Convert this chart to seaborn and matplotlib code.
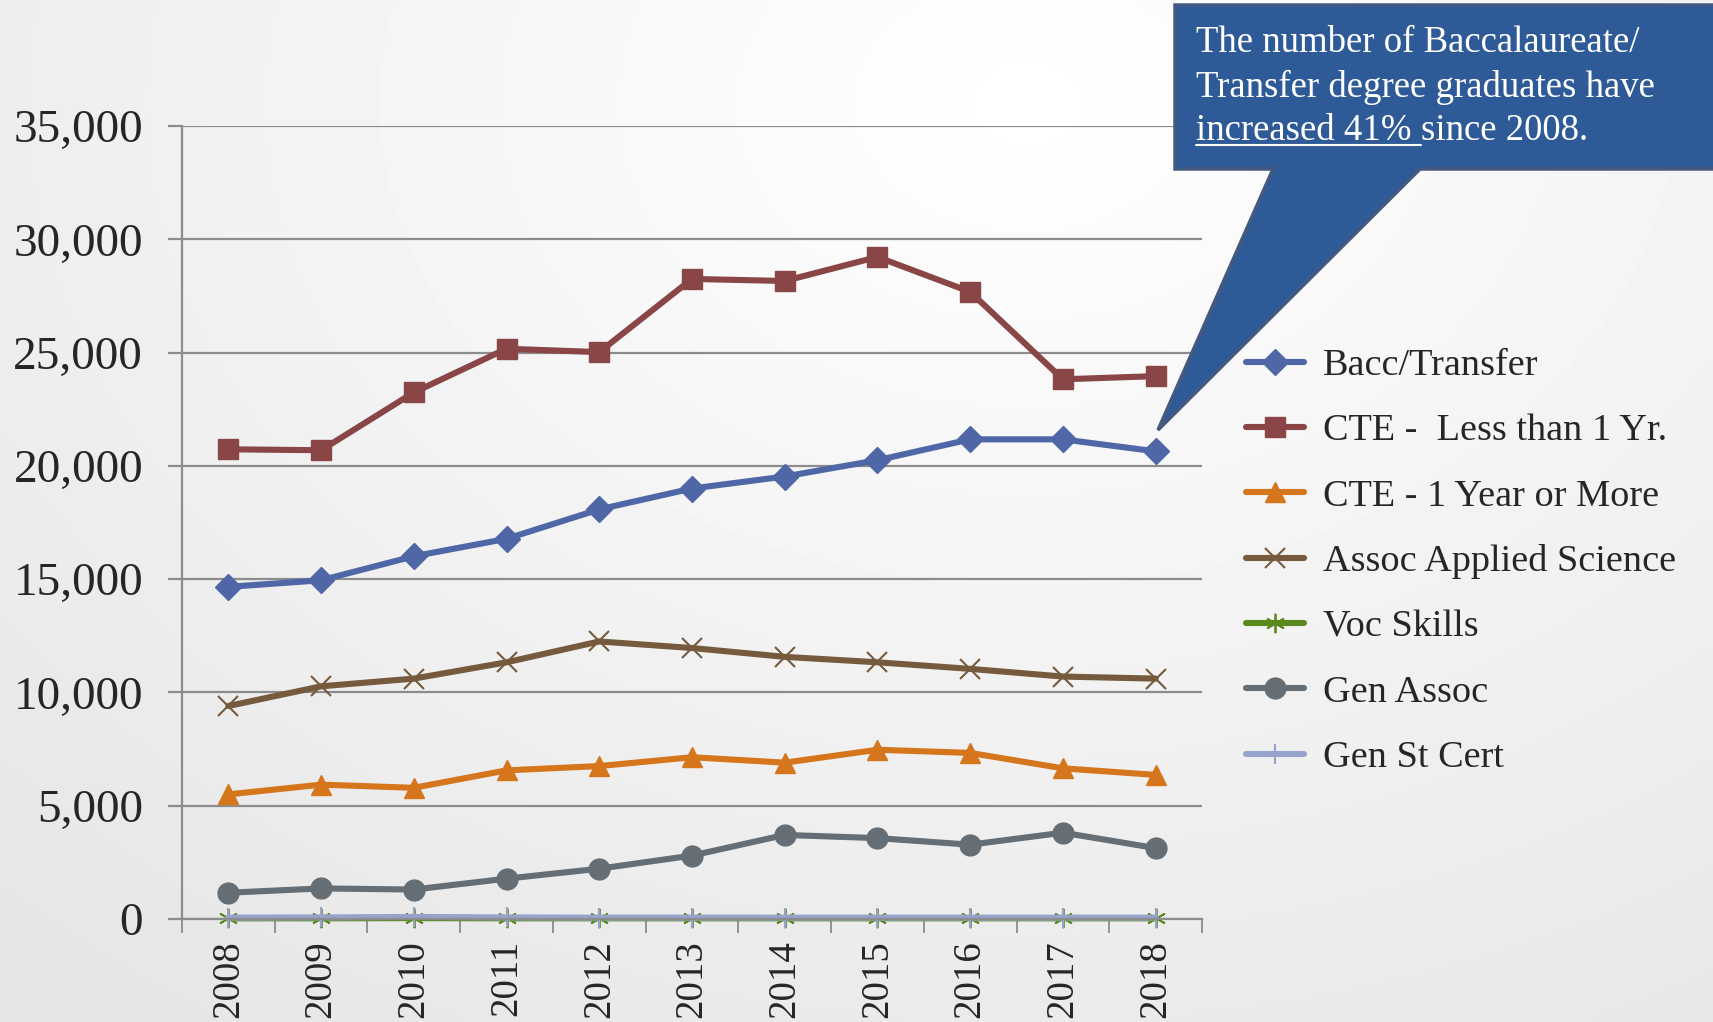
import seaborn as sns
import matplotlib.pyplot as plt
from matplotlib.patches import Polygon
from matplotlib.lines import Line2D
from matplotlib.ticker import FuncFormatter, FixedLocator
import numpy as np
import pandas as pd

## Data
years = [2008, 2009, 2010, 2011, 2012, 2013, 2014, 2015, 2016, 2017, 2018]
bacc_transfer = [14660, 14950, 16010, 16780, 18080, 19000, 19530, 20250, 21170, 21170, 20640]
cte_less_1yr = [20730, 20690, 23240, 25170, 25020, 28250, 28160, 29220, 27680, 23820, 23960]
cte_1yr_more = [5500, 5930, 5790, 6560, 6750, 7140, 6900, 7470, 7330, 6650, 6360]
assoc_applied = [9400, 10270, 10610, 11330, 12250, 11960, 11570, 11330, 11040, 10700, 10610]
voc_skills = [30, 30, 40, 30, 30, 30, 30, 30, 30, 30, 30]
gen_assoc = [1160, 1350, 1300, 1780, 2220, 2800, 3710, 3570, 3280, 3810, 3130]
gen_st_cert = [60, 70, 90, 70, 60, 60, 60, 60, 60, 60, 60]
y_ticks = [0, 5000, 10000, 15000, 20000, 25000, 30000, 35000]

series = [
    # label, values, color, marker, markersize, edge width
    ("Bacc/Transfer", bacc_transfer, "#4F67A6", "D", 13, 1),
    ("CTE -  Less than 1 Yr.", cte_less_1yr, "#8A4646", "s", 15, 1),
    ("CTE - 1 Year or More", cte_1yr_more, "#D5751C", "^", 15, 1),
    ("Assoc Applied Science", assoc_applied, "#765A3E", "x", 14, 1.5),
    ("Voc Skills", voc_skills, "#5A8A1E", (6, 2, 0), 14, 1.3),
    ("Gen Assoc", gen_assoc, "#656E74", "o", 15, 1),
    ("Gen St Cert", gen_st_cert, "#97A3CD", "|", 14, 1.5),
]

W, H = 1713, 1022
serif = ["Liberation Serif", "DejaVu Serif"]

sns.set_style("white")
plt.rcParams["font.family"] = serif

fig = plt.figure(figsize=(W / 100, H / 100), dpi=100)

# soft grey background gradient
bg = fig.add_axes([0, 0, 1, 1], zorder=-10)
yy, xx = np.mgrid[0:1:200j, 0:1:340j]
r = np.sqrt(((xx - 0.6) * 1.0) ** 2 + ((yy - 0.1) * 0.8) ** 2)
bg.imshow(1 - 0.085 * np.clip(r / 0.75, 0, 1.2), cmap="gray", vmin=0, vmax=1,
          aspect="auto", extent=[0, 1, 1, 0], interpolation="bicubic")
bg.set_axis_off()

ax = fig.add_axes([182 / W, 1 - 919 / H, (1202 - 182) / W, (919 - 126) / H])
ax.patch.set_alpha(0)

for label, vals, color, marker, ms, mew in series:
    df = pd.DataFrame({"year": years, "value": vals})
    sns.lineplot(data=df, x="year", y="value", ax=ax, color=color, lw=4.4,
                 marker=marker, markersize=ms, markeredgewidth=mew,
                 markeredgecolor=color, label=label, legend=False, clip_on=False)

ax.set_xlim(2007.5, 2018.5)
ax.set_ylim(0, 35000)
ax.set_xlabel("")
ax.set_ylabel("")

ax.yaxis.set_major_locator(FixedLocator(y_ticks))
ax.yaxis.set_major_formatter(FuncFormatter(lambda v, p: f"{int(v):,}"))
ax.grid(True, axis="y", color="#8C8C8C", lw=1.6)
ax.tick_params(axis="y", which="major", left=True, length=10, width=1.6,
               color="#8C8C8C", labelsize=34, pad=18)

ax.xaxis.set_major_locator(FixedLocator(years))
ax.set_xticklabels([str(y) for y in years], rotation=90, fontsize=28)
ax.xaxis.set_minor_locator(FixedLocator([y - 0.5 for y in years] + [2018.5]))
ax.tick_params(axis="x", which="major", bottom=True, length=0, pad=15)
ax.tick_params(axis="x", which="minor", bottom=True, length=10, width=1.3,
               color="#8C8C8C")

for side in ["top", "right"]:
    ax.spines[side].set_visible(False)
for side in ["left", "bottom"]:
    ax.spines[side].set_color("#8C8C8C")
    ax.spines[side].set_linewidth(1.6)

# legend
handles = [Line2D([], [], color=c, lw=4.4, marker=m, markersize=ms,
                  markeredgewidth=mew, markeredgecolor=c)
           for _, _, c, m, ms, mew in series]
labels = [s[0] for s in series]
fig.legend(handles, labels, loc="upper left",
           bbox_to_anchor=(1231 / W, 1 - 333 / H), frameon=False,
           fontsize=27.5, handlelength=1.5, handletextpad=0.5, labelspacing=0.8,
           borderaxespad=0)

# callout box with pointer
def fpt(px, py):
    return (px / W, 1 - py / H)

callout = Polygon([fpt(1175, 5), fpt(1720, 5), fpt(1720, 169), fpt(1420, 169),
                   fpt(1158, 430), fpt(1273, 169), fpt(1175, 169)],
                  closed=True, transform=fig.transFigure, facecolor="#2E5A97",
                  edgecolor="#44597F", lw=2.5, zorder=5)
fig.add_artist(callout)

tx = 1196 / W
line_tops = [26, 70, 114]
fs = 26.5
fig.text(tx, 1 - line_tops[0] / H, "The number of Baccalaureate/", color="white",
         fontsize=fs, va="top", ha="left", zorder=6)
fig.text(tx, 1 - line_tops[1] / H, "Transfer degree graduates have", color="white",
         fontsize=fs, va="top", ha="left", zorder=6)
t3 = fig.text(tx, 1 - line_tops[2] / H, "increased 41% ", color="white", fontsize=fs,
              va="top", ha="left", zorder=6)
renderer = fig.canvas.get_renderer()
bb = t3.get_window_extent(renderer).transformed(fig.transFigure.inverted())
fig.text(bb.x1, 1 - line_tops[2] / H, "since 2008.", color="white", fontsize=fs,
         va="top", ha="left", zorder=6)
fig.add_artist(Line2D([bb.x0, bb.x1], [bb.y0 + 3 / H, bb.y0 + 3 / H],
                      transform=fig.transFigure, color="white", lw=1.5, zorder=6))

fig.savefig("out.png", dpi=100)
